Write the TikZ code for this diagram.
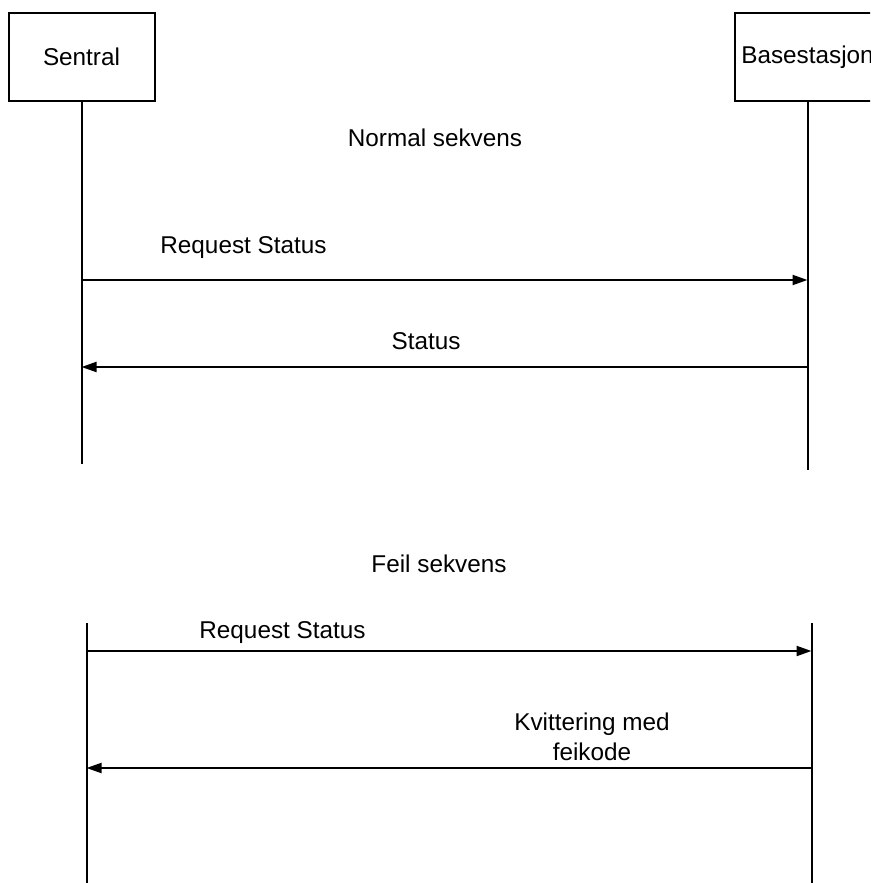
\documentclass[tikz,border=0pt]{standalone}
\usepackage{fontspec}
\setmainfont{Liberation Sans}
\usetikzlibrary{arrows.meta}
\begin{document}
\begin{tikzpicture}[x=1pt,y=-1pt,
  txt/.style={font=\fontsize{24.3}{30}\selectfont, inner sep=0pt},
  lbl/.style={txt, anchor=base},
  actor/.style={txt, draw, line width=2pt, minimum width=146pt, minimum height=88pt},
  life/.style={line width=2pt},
  msg/.style={line width=2pt, -{Triangle[length=15pt,width=10pt]}}]
\clip (0,0) rectangle (870,883);
\useasboundingbox (0,0) rectangle (870,883);

% actors
\node[actor] (sentral) at (81.5,57) {Sentral};
\node[actor] (base) at (807.5,57) {Basestasjon};

% lifelines, normal sequence
\coordinate (sEnd) at (81.5,464);
\coordinate (bEnd) at (807.5,470);
\draw[life] (sentral.south) -- (sEnd);
\draw[life] (base.south) -- (bEnd);

% lifelines, error sequence
\coordinate (s2Top) at (86.5,623);
\coordinate (s2End) at (86.5,883);
\coordinate (b2Top) at (811.5,623);
\coordinate (b2End) at (811.5,883);
\draw[life] (s2Top) -- (s2End);
\draw[life] (b2Top) -- (b2End);

% section titles
\node[lbl] (tNormal) at (435,146) {Normal sekvens};
\node[lbl] (tFeil) at (439,572) {Feil sekvens};

% normal sequence messages
\coordinate (m1a) at (81.5,280);
\coordinate (m1b) at (807.5,280);
\draw[msg] (m1a) -- (m1b);
\node[lbl] (l1) at (243.5,253) {Request Status};

\coordinate (m2a) at (807.5,367);
\coordinate (m2b) at (81.5,367);
\draw[msg] (m2a) -- (m2b);
\node[lbl] (l2) at (426,349) {Status};

% error sequence messages
\coordinate (m3a) at (86.5,651);
\coordinate (m3b) at (811.5,651);
\draw[msg] (m3a) -- (m3b);
\node[lbl] (l3) at (282.5,638) {Request Status};

\coordinate (m4a) at (811.5,768);
\coordinate (m4b) at (86.5,768);
\draw[msg] (m4a) -- (m4b);
\node[txt, align=center] (l4) at (592,737) {Kvittering med\\feikode};
\end{tikzpicture}
\end{document}
